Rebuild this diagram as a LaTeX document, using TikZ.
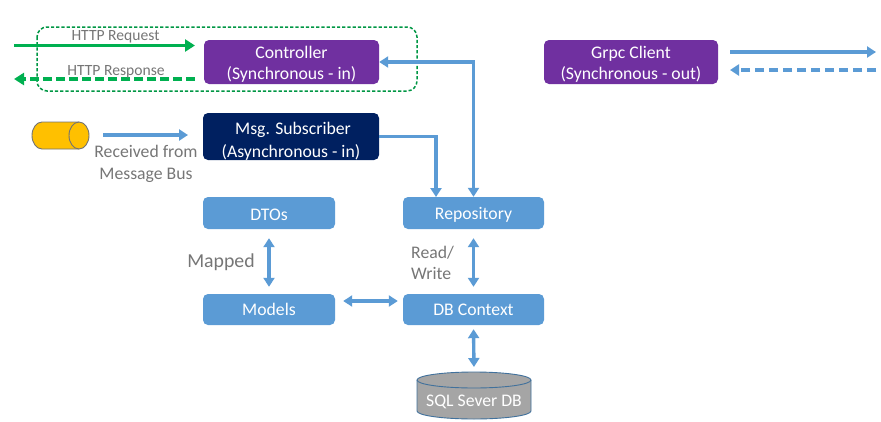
\documentclass[tikz,border=0pt]{standalone}
\usepackage{fontspec}
\setmainfont{Carlito}
\usetikzlibrary{arrows.meta,calc}
\definecolor{cpurple}{HTML}{7030A0}
\definecolor{cnavy}{HTML}{002060}
\definecolor{cblue}{HTML}{5B9BD5}
\definecolor{cgreen}{HTML}{00B050}
\definecolor{cgold}{HTML}{FFC000}
\definecolor{cgrey}{HTML}{A5A5A5}
\definecolor{cedge}{HTML}{41719C}
\definecolor{ctext}{HTML}{767676}
\newcommand{\lowertext}[2][2.5pt]{\raisebox{-#1}[\height][\depth]{#2}}
\tikzset{
  x=1pt,y=-1pt,
  boxbase/.style={anchor=center,rounded corners=5pt,text=white,align=center,font=\fontsize{17.7}{21}\selectfont,inner sep=0pt},
  purplebox/.style={boxbase,fill=cpurple},
  navybox/.style={boxbase,fill=cnavy,font=\fontsize{17.7}{23}\selectfont},
  bluebox/.style={boxbase,fill=cblue},
  lbl/.style={text=ctext,align=center,font=\fontsize{17.7}{21.5}\selectfont,inner sep=0pt},
  smalllbl/.style={text=ctext,font=\fontsize{15.6}{18}\selectfont,inner sep=0pt},
  conn/.style={line width=3.4pt,cblue,-{Triangle[length=9pt,width=11pt]}},
  biconn/.style={line width=3.4pt,cblue,{Triangle[length=9pt,width=11pt]}-{Triangle[length=9pt,width=11pt]}},
  dconn/.style={conn,dash pattern=on 9pt off 5pt},
  gconn/.style={line width=3.8pt,cgreen,-{Triangle[length=10pt,width=12pt]}},
  gdconn/.style={gconn,dash pattern=on 9pt off 4pt},
  plain/.style={inner sep=0pt,text=white,font=\fontsize{17.7}{21.5}\selectfont},
}
\begin{document}
\begin{tikzpicture}
\useasboundingbox (0,0) rectangle (881,421);
\node[purplebox,minimum width=175pt,minimum height=44pt] (ctrl) at (291.5,62) {\lowertext{Controller}\\\lowertext{(Synchronous - in)}};
\node[navybox,minimum width=176pt,minimum height=47pt] (msg) at (291,136.5) {\hspace{4pt}\lowertext[5pt]{Msg. Subscriber}\\\lowertext[5pt]{(Asynchronous - in)}};
\node[purplebox,minimum width=174pt,minimum height=44pt] (grpc) at (631,62) {\lowertext{Grpc Client}\\\lowertext{(Synchronous - out)}};
\node[bluebox,minimum width=132pt,minimum height=32pt] (dtos) at (269,213) {\lowertext[1.5pt]{DTOs}};
\node[bluebox,minimum width=141pt,minimum height=32pt] (repo) at (473.5,213) {\lowertext[1.5pt]{Repository}};
\node[bluebox,minimum width=132pt,minimum height=31pt] (models) at (269,309.5) {Models};
\node[bluebox,minimum width=141pt,minimum height=31pt] (dbctx) at (473.5,309.5) {DB Context};

% database cylinder
\draw[draw=cedge,fill=cgrey,line width=0.9pt] (417,380) arc[start angle=180,end angle=360,x radius=57,y radius=8] -- (531,411) arc[start angle=0,end angle=180,x radius=57,y radius=8] -- cycle;
\draw[draw=cedge,line width=0.9pt] (417,380) arc[start angle=180,end angle=0,x radius=57,y radius=8];
\node[plain] (sql) at (474,402) {SQL Sever DB};

% message bus cylinder
\draw[draw=black!55,fill=cgold,line width=0.9pt] (42,122) -- (79,122) arc[start angle=-90,end angle=90,x radius=10,y radius=13.5] -- (42,149) arc[start angle=90,end angle=270,x radius=10,y radius=13.5] -- cycle;
\draw[draw=black!55,line width=0.9pt] (79,122) arc[start angle=270,end angle=90,x radius=10,y radius=13.5];

\draw[cgreen!85!black,line width=1.5pt,dash pattern=on 3.2pt off 2pt,rounded corners=10pt] (37,27) rectangle (417,91);

\coordinate (reqs) at (14,45.5);
\coordinate (reqe) at (195,45.5);
\coordinate (ress) at (195,79);
\coordinate (rese) at (14,79);
\draw[gconn] (reqs) -- (reqe);
\draw[gdconn] (ress) -- (rese);
\node[smalllbl] (reqlbl) at (115.5,37) {HTTP Request};
\node[smalllbl] (reslbl) at (116,71.5) {HTTP Response};

\draw[biconn] (repo.north) -- (repo.north |- ctrl.east) -- (ctrl.east);
\draw[conn] (msg.east) -- (436,136.5) -- (436,197);

\coordinate (busout) at (103,135);
\coordinate (msgin) at (188,135);
\draw[conn] (busout) -- (msgin);
\node[lbl] (buslbl) at (146,164) {Received from\\Message Bus};

\draw[biconn,shorten <=9pt,shorten >=7pt] (dtos.south) -- (models.north);
\draw[biconn,shorten <=9pt,shorten >=7pt] (repo.south) -- (dbctx.north);
\coordinate (sqltop) at (474,372);
\draw[biconn,shorten <=4pt,shorten >=5pt] (dbctx.south) -- (sqltop);
\draw[biconn] ($(models.east)+(8,-8.5)$) -- ($(dbctx.west)+(-5,-8.5)$);

\node[lbl,font=\fontsize{19.8}{24}\selectfont] (mapped) at (221,262) {Mapped};
\node[lbl,align=left,anchor=west] (rw) at (411,263) {Read/\\Write};

\coordinate (gos) at (730,52);
\coordinate (goe) at (876,52);
\coordinate (gis) at (876,70);
\coordinate (gie) at (730,70);
\draw[conn] (gos) -- (goe);
\draw[dconn] (gis) -- (gie);
\end{tikzpicture}
\end{document}
